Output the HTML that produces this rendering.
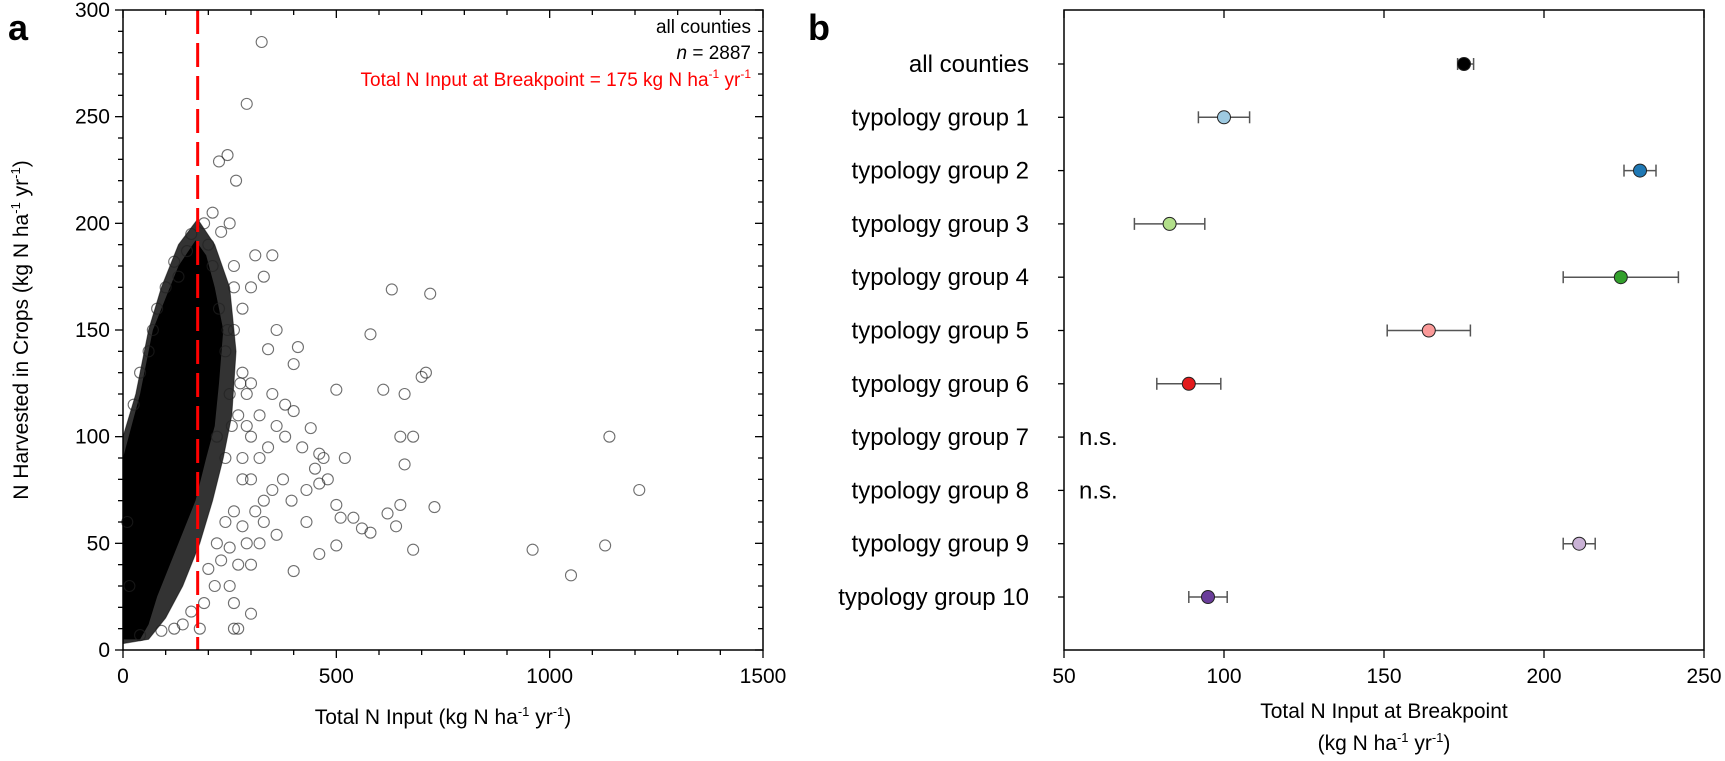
<!DOCTYPE html>
<html><head><meta charset="utf-8">
<style>
html,body{margin:0;padding:0;background:#fff;}
svg{display:block;font-family:"Liberation Sans",Arial,sans-serif;}
</style></head>
<body>
<svg id="chart" width="1725" height="761" viewBox="0 0 1725 761">
  <g id="pa"></g>
  <g id="pb"></g>
</svg>
<script>
// ---------- Panel a data ----------
const aXTicks = [0, 500, 1000, 1500];
const aYTicks = [0, 50, 100, 150, 200, 250, 300];
const breakpoint = 175;
// dense core envelope (data coords)
const coreX = [0,0,20,40,70,100,130,170,195,215,235,225,215,195,170,140,110,80,60,40];
const coreY = [5,90,105,120,150,165,180,192,185,170,150,125,105,90,70,55,40,25,12,5];
const fringeX = [0,0,30,60,90,130,175,215,250,265,255,235,210,180,140,100,60];
const fringeY = [3,100,120,150,170,190,202,190,170,140,110,90,70,50,30,15,5];
// individual scattered counties (estimated)
const ptX = [325,290,245,225,265,210,250,230,310,350,330,260,300,630,720,580,410,340,360,400,300,290,500,610,660,700,710,400,440,1140,1210,380,420,460,450,480,470,520,360,340,375,395,430,460,500,540,640,620,650,660,680,650,730,560,580,510,500,460,430,400,360,330,310,280,260,290,270,250,260,300,270,260,180,960,1050,1130,680,300,320,280,300,270,250,280,260,320,350,380,300,240,220,200,230,215,190,160,140,120,90,40,15,10,220,240,255,240,225,260,280,200,190,150,120,100,70,60,40,25,80,130,160,210,245,275,290,320,350,330,280,250];
const ptY = [285,256,232,229,220,205,200,196,185,185,175,180,170,169,167,148,142,141,150,134,125,120,122,122,120,128,130,112,104,100,75,100,95,92,85,80,90,90,105,95,80,70,75,78,68,62,58,64,68,87,100,100,67,57,55,62,49,45,60,37,54,70,65,80,65,50,40,30,22,17,10,10,10,47,35,49,47,40,50,90,100,110,120,130,150,110,120,115,80,60,50,38,42,30,22,18,12,10,9,7,30,60,100,90,105,140,160,170,160,190,200,187,182,170,150,140,130,115,160,175,195,180,150,125,105,90,75,60,58,48];

// ---------- Panel b data ----------
const bCats = ["all counties","typology group 1","typology group 2","typology group 3","typology group 4","typology group 5","typology group 6","typology group 7","typology group 8","typology group 9","typology group 10"];
const bVals = [175,100,230,83,224,164,89,null,null,211,95];
const bLo = [173,92,225,72,206,151,79,null,null,206,89];
const bHi = [178,108,235,94,242,177,99,null,null,216,101];
const bColors = ["#000000","#9ecae1","#1f78b4","#b2df8a","#33a02c","#fb9a99","#e31a1c",null,null,"#cab2d6","#6a3d9a"];
const bXTicks = [50,100,150,200,250];

const NS="http://www.w3.org/2000/svg";
function mk(parent, tag, attrs, text){
  const e=document.createElementNS(NS,tag);
  for(const k in attrs) e.setAttribute(k, attrs[k]);
  if(text!==undefined) e.textContent=text;
  parent.appendChild(e); return e;
}

// ===== Panel a =====
const pa=document.getElementById('pa');
const aL=123,aR=763,aT=10,aB=650;
const ax=v=>aL+(v-0)/(1500-0)*(aR-aL);
const ay=v=>aB-(v-0)/(300-0)*(aB-aT);

let poly=fringeX.map((x,i)=>ax(x)+','+ay(fringeY[i])).join(' ');
let f=mk(pa,'polygon',{points:poly,fill:'#000','fill-opacity':0.8,stroke:'#000','stroke-opacity':0.5,'stroke-width':1});


poly=coreX.map((x,i)=>ax(x)+','+ay(coreY[i])).join(' ');
f=mk(pa,'polygon',{points:poly,fill:'#000'});


ptX.forEach((x,i)=>{
  const c=mk(pa,'circle',{cx:ax(x),cy:ay(ptY[i]),r:5.5,fill:'none',stroke:'#222','stroke-opacity':0.65,'stroke-width':1.1});
  
  
});
// breakpoint line
let bl=mk(pa,'line',{x1:ax(breakpoint),x2:ax(breakpoint),y1:aT,y2:aB,stroke:'#ff0000','stroke-width':3,'stroke-dasharray':'24 9'});


// frame
let fr=mk(pa,'rect',{x:aL,y:aT,width:aR-aL,height:aB-aT,fill:'none',stroke:'#000','stroke-width':1.5});


for(let v=0;v<=300;v+=10){
  const len=(v%50===0)?8:5;
  mk(pa,'line',{x1:aL-len,x2:aL,y1:ay(v),y2:ay(v),stroke:'#000','stroke-width':1.3});
  mk(pa,'line',{x1:aR,x2:aR-len,y1:ay(v),y2:ay(v),stroke:'#000','stroke-width':1.3});
}
for(let v=0;v<=1500;v+=100){
  const len=(v%500===0)?8:5;
  mk(pa,'line',{x1:ax(v),x2:ax(v),y1:aB,y2:aB+len,stroke:'#000','stroke-width':1.3});
  mk(pa,'line',{x1:ax(v),x2:ax(v),y1:aT,y2:aT+len,stroke:'#000','stroke-width':1.3});
}
aYTicks.forEach(v=>{
  const t=mk(pa,'text',{x:aL-13,y:ay(v)+7,'text-anchor':'end','font-size':21},String(v));
  
  
});
aXTicks.forEach(v=>{
  const t=mk(pa,'text',{x:ax(v),y:aB+33,'text-anchor':'middle','font-size':21},String(v));
  
  
});
</script>
<script>
(function(){
const pa=document.getElementById('pa');
pa.insertAdjacentHTML('beforeend',
 '<text x="8" y="40" font-size="36" font-weight="bold">a</text>'+
 '<text x="751" y="33" font-size="19" text-anchor="end">all counties</text>'+
 '<text x="751" y="59" font-size="19" text-anchor="end"><tspan font-style="italic">n</tspan> = 2887</text>'+
 '<text x="751" y="86" font-size="19" text-anchor="end" fill="#ff0000">Total N Input at Breakpoint = 175 kg N ha<tspan dy="-8" font-size="12">-1</tspan><tspan dy="8"> yr</tspan><tspan dy="-8" font-size="12">-1</tspan></text>'+
 '<text x="443" y="724" font-size="21" text-anchor="middle">Total N Input (kg N ha<tspan dy="-8" font-size="13">-1</tspan><tspan dy="8"> yr</tspan><tspan dy="-8" font-size="13">-1</tspan><tspan dy="8">)</tspan></text>'+
 '<text transform="translate(28,330) rotate(-90)" font-size="21" text-anchor="middle">N Harvested in Crops (kg N ha<tspan dy="-8" font-size="13">-1</tspan><tspan dy="8"> yr</tspan><tspan dy="-8" font-size="13">-1</tspan><tspan dy="8">)</tspan></text>'
);
})();
</script>
<script>
// ===== Panel b =====
const pb=document.getElementById('pb');
const bL=1064,bR=1704,bT=10,bB=650;
const bx=v=>bL+(v-50)/(250-50)*(bR-bL);
const rowY0=64,rowStep=53.3;
const by=i=>rowY0+i*rowStep;

let frb=mk(pb,'rect',{x:bL,y:bT,width:bR-bL,height:bB-bT,fill:'none',stroke:'#000','stroke-width':1.5});


bXTicks.forEach(v=>{
  mk(pb,'line',{x1:bx(v),x2:bx(v),y1:bB,y2:bB+8,stroke:'#000','stroke-width':1.3});
  mk(pb,'line',{x1:bx(v),x2:bx(v),y1:bT,y2:bT+8,stroke:'#000','stroke-width':1.3});
  const t=mk(pb,'text',{x:bx(v),y:bB+33,'text-anchor':'middle','font-size':21},String(v));
  
  
});
bCats.forEach((c,i)=>{
  const y=by(i);
  mk(pb,'line',{x1:bL-6,x2:bL,y1:y,y2:y,stroke:'#000','stroke-width':1.3});
  const t=mk(pb,'text',{x:bL-35,y:y+8,'text-anchor':'end','font-size':24},c);
  
  
  if(bVals[i]===null){
    const n=mk(pb,'text',{x:bL+15,y:y+8,'font-size':24},'n.s.');
    
    
    return;
  }
  const g=mk(pb,'g',{});
  
  
  mk(g,'line',{x1:bx(bLo[i]),x2:bx(bHi[i]),y1:y,y2:y,stroke:'#555','stroke-width':1.5});
  mk(g,'line',{x1:bx(bLo[i]),x2:bx(bLo[i]),y1:y-6,y2:y+6,stroke:'#555','stroke-width':1.5});
  mk(g,'line',{x1:bx(bHi[i]),x2:bx(bHi[i]),y1:y-6,y2:y+6,stroke:'#555','stroke-width':1.5});
  mk(g,'circle',{cx:bx(bVals[i]),cy:y,r:6.5,fill:bColors[i],stroke:'#222','stroke-width':1});
});
pb.insertAdjacentHTML('beforeend',
 '<text x="808" y="40" font-size="36" font-weight="bold">b</text>'+
 '<text x="1384" y="718" font-size="21" text-anchor="middle">Total N Input at Breakpoint</text>'+
 '<text x="1384" y="750" font-size="21" text-anchor="middle">(kg N ha<tspan dy="-8" font-size="13">-1</tspan><tspan dy="8"> yr</tspan><tspan dy="-8" font-size="13">-1</tspan><tspan dy="8">)</tspan></text>'
);
</script>
</body></html>
